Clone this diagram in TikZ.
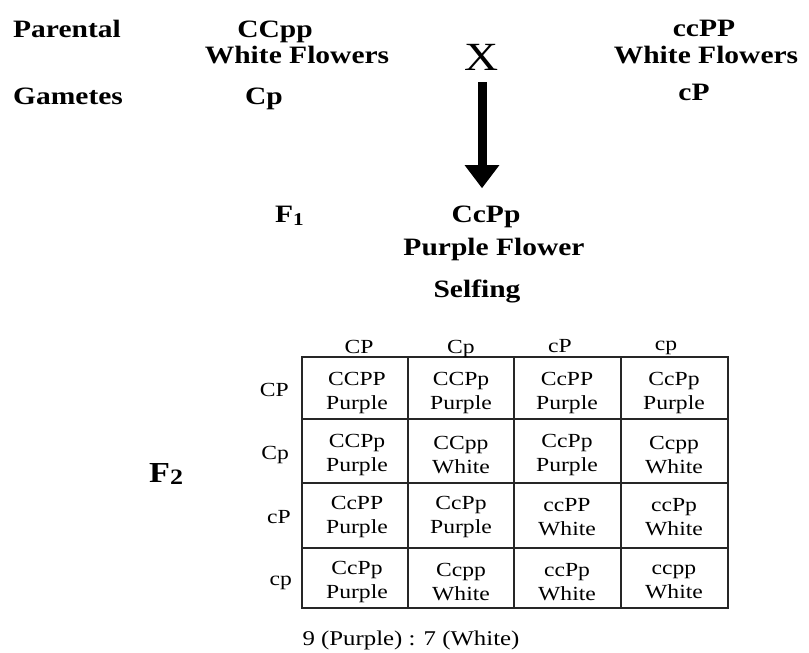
\documentclass[tikz,border=0pt]{standalone}
\usepackage{fontspec}
\setmainfont{Liberation Serif}[FakeStretch=1.18]
\usetikzlibrary{arrows.meta}
\begin{document}
\begin{tikzpicture}[x=1pt,y=-1pt,
  lbl/.style={inner sep=0pt,font=\fontsize{25}{28}\selectfont\bfseries},
  hdr/.style={inner sep=0pt,font=\fontsize{20}{22}\selectfont},
  cell/.style={inner sep=0pt,align=center,font=\fontsize{20}{23.5}\selectfont},
  gridline/.style={line width=2pt,draw=black!85},
  bigarrow/.style={line width=9pt,-{Triangle[width=33pt,length=23pt]}}]
\useasboundingbox (0,0) rectangle (809,653);

% parents and gametes
\node[lbl,anchor=base west] (parental) at (13,37) {Parental};
\node[lbl,anchor=base west] (gametes) at (13,104) {Gametes};
\node[lbl,anchor=base] (p1) at (275,37) {CCpp};
\node[lbl,anchor=base] (p1col) at (297,63) {White Flowers};
\node[lbl,anchor=base] (g1) at (264,104) {Cp};
\node[lbl,anchor=base] (p2) at (704,36) {ccPP};
\node[lbl,anchor=base] (p2col) at (706,63) {White Flowers};
\node[lbl,anchor=base] (g2) at (694,100) {cP};
\node[inner sep=0pt,anchor=base,font=\fontsize{40}{40}\selectfont] (cross) at (482,70) {X};

% F1 generation
\node[lbl,anchor=base west] (f1) at (275,222) {F\raisebox{-3pt}{\fontsize{18}{18}\selectfont 1}};
\node[lbl,anchor=base] (f1geno) at (486,222) {CcPp};
\node[lbl,anchor=base] (f1col) at (494,255) {Purple Flower};
\node[lbl,anchor=base] (selfing) at (477,297) {Selfing};
\draw[bigarrow,shorten <=12pt,shorten >=17pt] (cross.south) -- (cross.south |- f1geno.north);

% F2 label
\node[inner sep=0pt,anchor=base west,font=\fontsize{29}{30}\selectfont\bfseries] (f2) at (149,482)
  {F\raisebox{-2pt}{\fontsize{22}{22}\selectfont 2}};

% Punnett square frame
\def\xa{302}\def\xb{408}\def\xc{514}\def\xd{621}\def\xe{728}
\def\ya{357}\def\yb{419}\def\yc{483}\def\yd{548}\def\ye{608}
\draw[gridline] (\xa,\ya) rectangle (\xe,\ye);
\foreach \xx in {\xb,\xc,\xd} \draw[gridline] (\xx,\ya) -- (\xx,\ye);
\foreach \yy in {\yb,\yc,\yd} \draw[gridline] (\xa,\yy) -- (\xe,\yy);

% column gametes
\node[hdr,anchor=base] (h1) at (359,353) {CP};
\node[hdr,anchor=base] (h2) at (461,353) {Cp};
\node[hdr,anchor=base] (h3) at (560,352) {cP};
\node[hdr,anchor=base] (h4) at (666,350) {cp};

% row gametes
\node[hdr,anchor=east] (r1) at (289,390) {CP};
\node[hdr,anchor=east] (r2) at (289,455) {Cp};
\node[hdr,anchor=east] (r3) at (291,517) {cP};
\node[hdr,anchor=east] (r4) at (292,583) {cp};

% offspring
\foreach \cy/\i/\la/\lb/\lc/\ld in {
  393/1/{CCPP\\Purple}/{CCPp\\Purple}/{CcPP\\Purple}/{CcPp\\Purple},
  455/2/{CCPp\\Purple}/{CCpp\\White}/{CcPp\\Purple}/{Ccpp\\White},
  517/3/{CcPP\\Purple}/{CcPp\\Purple}/{ccPP\\White}/{ccPp\\White},
  582/4/{CcPp\\Purple}/{Ccpp\\White}/{ccPp\\White}/{ccpp\\White}} {
  \node[cell] (c\i-1) at (357,\cy) {\la};
  \node[cell] (c\i-2) at (461,\cy) {\lb};
  \node[cell] (c\i-3) at (567,\cy) {\lc};
  \node[cell] (c\i-4) at (674,\cy) {\ld};
}

% ratio
\node[inner sep=0pt,anchor=base,font=\fontsize{21}{22}\selectfont] (ratio) at (411,645) {9 (Purple) : 7 (White)};
\end{tikzpicture}
\end{document}
